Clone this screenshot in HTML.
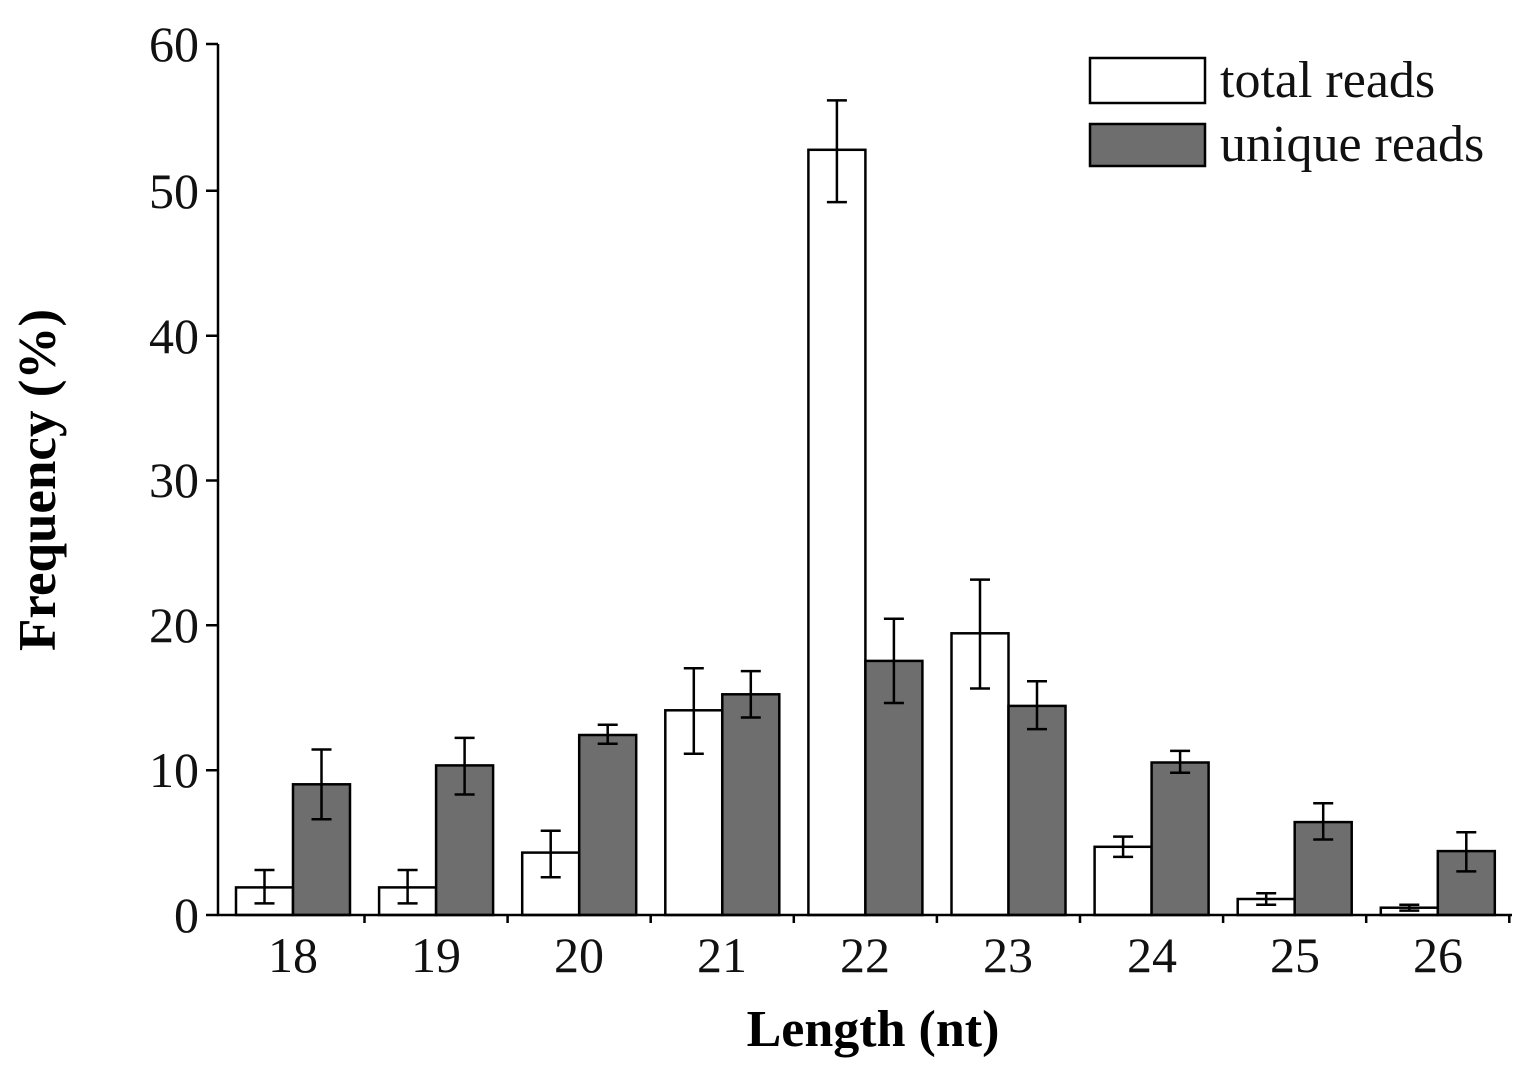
<!DOCTYPE html>
<html><head><meta charset="utf-8"><style>body{margin:0;background:#fff}svg{display:block}</style></head><body>
<svg width="1535" height="1077" xmlns="http://www.w3.org/2000/svg" font-family="Liberation Serif, serif">
<rect width="1535" height="1077" fill="#fff"/>
<g stroke="#000" stroke-width="2.5" fill="#fff">
<rect x="236" y="887.4" width="57" height="27.6"/><rect x="293" y="784.3" width="57" height="130.7" fill="#6e6e6e"/>
<rect x="379.1" y="887.4" width="57" height="27.6"/><rect x="436.1" y="765.4" width="57" height="149.6" fill="#6e6e6e"/>
<rect x="522.2" y="852.6" width="57" height="62.4"/><rect x="579.2" y="735" width="57" height="180" fill="#6e6e6e"/>
<rect x="665.3" y="710.3" width="57" height="204.7"/><rect x="722.3" y="694.3" width="57" height="220.7" fill="#6e6e6e"/>
<rect x="808.4" y="149.8" width="57" height="765.2"/><rect x="865.4" y="660.9" width="57" height="254.1" fill="#6e6e6e"/>
<rect x="951.5" y="633.3" width="57" height="281.7"/><rect x="1008.5" y="705.9" width="57" height="209.1" fill="#6e6e6e"/>
<rect x="1094.6" y="846.8" width="57" height="68.2"/><rect x="1151.6" y="762.5" width="57" height="152.5" fill="#6e6e6e"/>
<rect x="1237.7" y="899" width="57" height="16"/><rect x="1294.7" y="822.1" width="57" height="92.9" fill="#6e6e6e"/>
<rect x="1380.8" y="907.7" width="57" height="7.3"/><rect x="1437.8" y="851.1" width="57" height="63.9" fill="#6e6e6e"/>
</g>
<g stroke="#000" stroke-width="2.5" fill="none">
<path d="M264.5 903.4V870M254.5 903.4h20M254.5 870h20"/>
<path d="M321.5 819.2V749.5M311.5 819.2h20M311.5 749.5h20"/>
<path d="M407.6 903.4V870M397.6 903.4h20M397.6 870h20"/>
<path d="M464.6 794.5V737.9M454.6 794.5h20M454.6 737.9h20"/>
<path d="M550.7 877.2V830.8M540.7 877.2h20M540.7 830.8h20"/>
<path d="M607.7 743.7V724.8M597.7 743.7h20M597.7 724.8h20"/>
<path d="M693.8 753.8V668.2M683.8 753.8h20M683.8 668.2h20"/>
<path d="M750.8 717.5V671.1M740.8 717.5h20M740.8 671.1h20"/>
<path d="M836.9 202.1V100.4M826.9 202.1h20M826.9 100.4h20"/>
<path d="M893.9 703V618.8M883.9 703h20M883.9 618.8h20"/>
<path d="M980 688.5V579.6M970 688.5h20M970 579.6h20"/>
<path d="M1037 729.1V681.2M1027 729.1h20M1027 681.2h20"/>
<path d="M1123.1 856.9V836.6M1113.1 856.9h20M1113.1 836.6h20"/>
<path d="M1180.1 772.7V750.9M1170.1 772.7h20M1170.1 750.9h20"/>
<path d="M1266.2 904.8V893.2M1256.2 904.8h20M1256.2 893.2h20"/>
<path d="M1323.2 839.5V803.2M1313.2 839.5h20M1313.2 803.2h20"/>
<path d="M1409.3 910.6V904.8M1399.3 910.6h20M1399.3 904.8h20"/>
<path d="M1466.3 871.4V832.2M1456.3 871.4h20M1456.3 832.2h20"/>
<path d="M218 44V915H1512"/>
<path d="M206 915h12M206 770.2h12M206 625.3h12M206 480.5h12M206 335.7h12M206 190.8h12M206 44h12"/>
<path d="M364.5 915v8M507.6 915v8M650.7 915v8M793.8 915v8M936.9 915v8M1080 915v8M1223.1 915v8M1366.2 915v8M1509.3 915v8"/>
</g>
<g font-size="50" text-anchor="end" fill="#111">
<text x="199" y="932">0</text><text x="199" y="787">10</text><text x="199" y="642">20</text><text x="199" y="497">30</text><text x="199" y="353">40</text><text x="199" y="208">50</text><text x="199" y="61">60</text>
</g>
<g font-size="50" text-anchor="middle" fill="#111">
<text x="293" y="972">18</text><text x="436" y="972">19</text><text x="579" y="972">20</text><text x="722" y="972">21</text><text x="865" y="972">22</text><text x="1008" y="972">23</text><text x="1152" y="972">24</text><text x="1295" y="972">25</text><text x="1438" y="972">26</text>
</g>
<text x="873" y="1046" font-size="52" font-weight="bold" text-anchor="middle">Length (nt)</text>
<text transform="translate(55,480) rotate(-90)" font-size="53" font-weight="bold" text-anchor="middle">Frequency (%)</text>
<rect x="1090" y="58" width="115" height="45" fill="#fff" stroke="#000" stroke-width="2.5"/>
<rect x="1090" y="124" width="115" height="42" fill="#6e6e6e" stroke="#000" stroke-width="2.5"/>
<text x="1220" y="97" font-size="52" fill="#111">total reads</text>
<text x="1220" y="161" font-size="52" fill="#111">unique reads</text>
</svg>
</body></html>
